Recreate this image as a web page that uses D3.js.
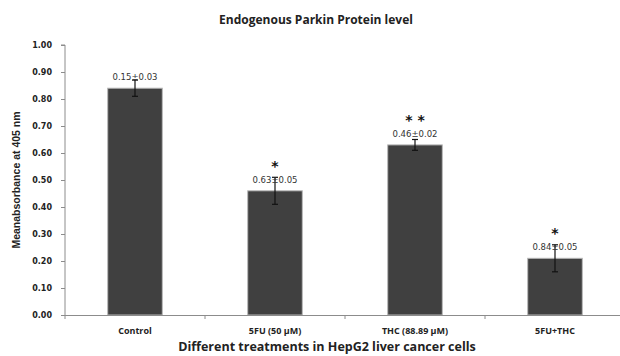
<!DOCTYPE html>
<html><head><meta charset="utf-8">
<script src="https://cdn.jsdelivr.net/npm/d3@7"></script>
<style>body{margin:0;background:#fff}svg{display:block}</style>
</head><body><svg id="c" width="620" height="356"></svg>
<script>
const categories = ["Control", "5FU (50 \u00b5M)", "THC  (88.89 \u00b5M)", "5FU+THC"];
const means = [0.84, 0.46, 0.63, 0.21];
const errors = [0.03, 0.05, 0.02, 0.05];
const valueLabels = ["0.15\u00b10.03", "0.63\u00b10.05", "0.46\u00b10.02", "0.84\u00b10.05"];
const significance = ["", "*", "* *", "*"];
const yTicks = [0, 0.1, 0.2, 0.3, 0.4, 0.5, 0.6, 0.7, 0.8, 0.9, 1.0];

const svg = d3.select("#c");
const x = d3.scaleBand().domain(categories).range([65, 625]).paddingInner(0).paddingOuter(0);
const y = d3.scaleLinear().domain([0, 1]).range([315, 45]);
const barW = x.bandwidth() * 0.39;
const axisColor = "#8c8c8c";

// title
svg.append("text").attr("x", 316).attr("y", 24).attr("text-anchor", "middle")
  .attr("font-family", "Open Sans, Liberation Sans, sans-serif").attr("font-weight", "bold")
  .attr("font-size", 12).attr("fill", "#222").text("Endogenous Parkin Protein level");

// y axis
const ya = svg.append("g").attr("transform", "translate(65,0)")
  .call(d3.axisLeft(y).tickValues(yTicks).tickFormat(d3.format(".2f")).tickSize(4).tickPadding(9));
ya.select(".domain").attr("stroke", axisColor).attr("d", `M-4,${y(1)}H0V${y(0)}`);
ya.selectAll(".tick line").attr("stroke", axisColor);
ya.selectAll(".tick text").attr("font-family", "DejaVu Sans, Verdana, sans-serif")
  .attr("font-weight", "bold").attr("font-size", 8).attr("fill", "#222");

// bars
svg.append("g").selectAll("rect").data(categories).join("rect")
  .attr("x", (d) => x(d) + x.bandwidth() / 2 - barW / 2)
  .attr("y", (d, i) => y(means[i]))
  .attr("width", barW)
  .attr("height", (d, i) => y(0) - y(means[i]))
  .attr("fill", "#404040").attr("stroke", "#b8b8b8").attr("stroke-width", 1);

// x axis
const xa = svg.append("g").attr("transform", "translate(0,315)");
xa.append("line").attr("x1", 65).attr("x2", 625).attr("y1", 0.5).attr("y2", 0.5).attr("stroke", axisColor);
xa.selectAll("line.t").data(categories.concat(["end"])).join("line").attr("class", "t")
  .attr("x1", (d, i) => 65 + i * x.bandwidth()).attr("x2", (d, i) => 65 + i * x.bandwidth())
  .attr("y1", 0).attr("y2", 4).attr("stroke", axisColor);
xa.selectAll("text").data(categories).join("text")
  .attr("x", (d) => x(d) + x.bandwidth() / 2).attr("y", 19).attr("text-anchor", "middle")
  .attr("font-family", "Open Sans, Liberation Sans, sans-serif").attr("font-weight", "bold")
  .attr("font-size", 9).attr("fill", "#222").text((d) => d);

// error bars
const eg = svg.append("g").attr("stroke", "#111").attr("stroke-width", 1.2);
categories.forEach((c, i) => {
  const cx = x(c) + x.bandwidth() / 2;
  eg.append("line").attr("x1", cx).attr("x2", cx).attr("y1", y(means[i] + errors[i])).attr("y2", y(means[i] - errors[i]));
  eg.append("line").attr("x1", cx - 3).attr("x2", cx + 3).attr("y1", y(means[i] + errors[i])).attr("y2", y(means[i] + errors[i]));
  eg.append("line").attr("x1", cx - 3).attr("x2", cx + 3).attr("y1", y(means[i] - errors[i])).attr("y2", y(means[i] - errors[i]));
});

// value labels
svg.append("g").selectAll("text").data(categories).join("text")
  .attr("x", (d) => x(d) + x.bandwidth() / 2).attr("y", (d, i) => y(means[i]) - 8)
  .attr("text-anchor", "middle").attr("font-family", "DejaVu Sans, Verdana, sans-serif")
  .attr("font-size", 8.5).attr("fill", "#333").text((d, i) => valueLabels[i]);

// significance stars
svg.append("g").selectAll("text").data(categories).join("text")
  .attr("x", (d) => x(d) + x.bandwidth() / 2).attr("y", (d, i) => y(means[i]) - 20)
  .attr("text-anchor", "middle").attr("font-family", "DejaVu Sans, sans-serif")
  .attr("font-weight", "bold").attr("font-size", 14).attr("fill", "#111").text((d, i) => significance[i]);

// axis titles
svg.append("text").attr("transform", "translate(20,180) rotate(-90)").attr("text-anchor", "middle")
  .attr("font-family", "Liberation Sans Narrow, Liberation Sans, sans-serif").attr("font-weight", "bold")
  .attr("font-size", 10.5).attr("fill", "#222").text("Meanabsorbance at 405 nm");
svg.append("text").attr("x", 327).attr("y", 351).attr("text-anchor", "middle")
  .attr("font-family", "Open Sans, Liberation Sans, sans-serif").attr("font-weight", "bold")
  .attr("font-size", 12.5).attr("fill", "#222").text("Different treatments in HepG2 liver cancer cells");
</script></body></html>
